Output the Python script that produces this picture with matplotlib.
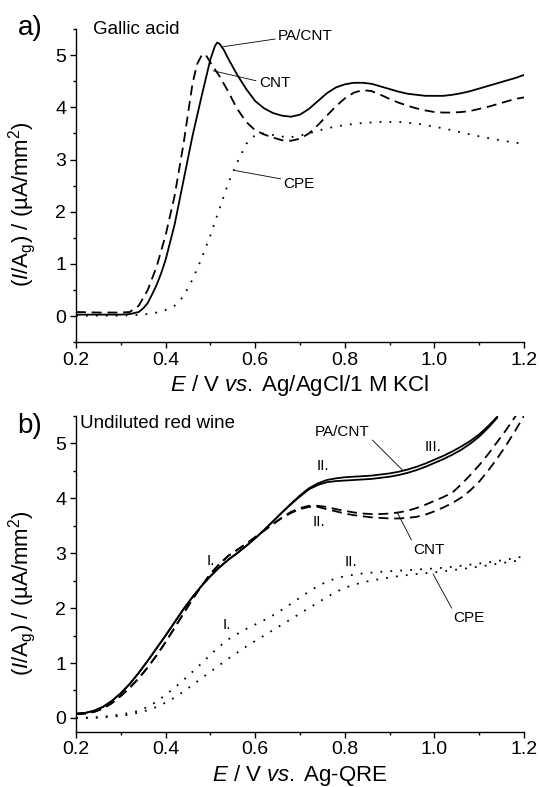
import matplotlib
matplotlib.use("Agg")
import matplotlib.pyplot as plt
from matplotlib.ticker import MultipleLocator, FormatStrFormatter

plt.rcParams['font.family'] = ['Liberation Sans', 'DejaVu Sans']
plt.rcParams['mathtext.fontset'] = 'custom'
plt.rcParams['mathtext.rm'] = 'Liberation Sans'
plt.rcParams['mathtext.it'] = 'Liberation Sans:italic'
plt.rcParams['mathtext.bf'] = 'Liberation Sans:bold'

# ---------------- Panel a: Gallic acid ----------------
a_pacnt_x = [0.20, 0.25, 0.30, 0.32, 0.34, 0.35, 0.36, 0.37, 0.38, 0.39, 0.40, 0.42, 0.44, 0.46,
             0.48, 0.50, 0.51, 0.515, 0.52, 0.53, 0.54, 0.56, 0.58, 0.60, 0.62, 0.64, 0.66, 0.68,
             0.70, 0.72, 0.74, 0.76, 0.78, 0.80, 0.82, 0.84, 0.86, 0.88, 0.90, 0.92, 0.94, 0.96,
             0.98, 1.00, 1.02, 1.04, 1.06, 1.08, 1.10, 1.12, 1.14, 1.16, 1.18, 1.20]
a_pacnt_y = [0.03, 0.03, 0.03, 0.04, 0.08, 0.15, 0.25, 0.42, 0.60, 0.82, 1.08, 1.75, 2.60, 3.45,
             4.20, 4.92, 5.17, 5.24, 5.22, 5.10, 4.93, 4.62, 4.35, 4.12, 3.98, 3.89, 3.84, 3.82,
             3.86, 3.97, 4.12, 4.27, 4.38, 4.44, 4.47, 4.47, 4.45, 4.40, 4.35, 4.30, 4.26, 4.24,
             4.22, 4.22, 4.22, 4.24, 4.27, 4.31, 4.36, 4.41, 4.46, 4.51, 4.56, 4.62]

a_cnt_x = [0.20, 0.25, 0.30, 0.32, 0.34, 0.36, 0.38, 0.40, 0.42, 0.44, 0.46, 0.47, 0.48, 0.485,
           0.49, 0.50, 0.52, 0.54, 0.55, 0.56, 0.58, 0.60, 0.62, 0.64, 0.66, 0.68, 0.70, 0.72,
           0.74, 0.76, 0.78, 0.80, 0.82, 0.84, 0.86, 0.88, 0.90, 0.92, 0.94, 0.96, 0.98, 1.00,
           1.02, 1.04, 1.06, 1.08, 1.10, 1.12, 1.14, 1.16, 1.18, 1.20]
a_cnt_y = [0.08, 0.07, 0.07, 0.08, 0.20, 0.50, 0.95, 1.55, 2.30, 3.30, 4.45, 4.82, 4.99, 5.02,
           5.00, 4.86, 4.60, 4.30, 4.13, 3.97, 3.72, 3.56, 3.48, 3.42, 3.37, 3.36, 3.40, 3.50,
           3.66, 3.84, 4.02, 4.17, 4.28, 4.33, 4.31, 4.24, 4.16, 4.09, 4.03, 3.98, 3.94, 3.91,
           3.90, 3.90, 3.91, 3.93, 3.97, 4.01, 4.06, 4.11, 4.16, 4.19]

a_cpe_x = [0.20, 0.25, 0.30, 0.35, 0.38, 0.40, 0.42, 0.44, 0.46, 0.48, 0.50, 0.52, 0.54, 0.56,
           0.58, 0.60, 0.62, 0.64, 0.66, 0.68, 0.70, 0.72, 0.74, 0.76, 0.78, 0.80, 0.84, 0.88,
           0.92, 0.96, 1.00, 1.04, 1.08, 1.12, 1.16, 1.20]
a_cpe_y = [0.01, 0.01, 0.01, 0.03, 0.07, 0.12, 0.20, 0.38, 0.70, 1.10, 1.55, 2.05, 2.55, 2.95,
           3.30, 3.47, 3.50, 3.47, 3.44, 3.43, 3.46, 3.50, 3.55, 3.60, 3.63, 3.66, 3.70, 3.72,
           3.72, 3.69, 3.63, 3.56, 3.48, 3.41, 3.35, 3.30]

# ---------------- Panel b: Undiluted red wine ----------------
b_x = [0.20, 0.22, 0.24, 0.26, 0.28, 0.30, 0.32, 0.34, 0.36, 0.38, 0.40, 0.42, 0.44, 0.46,
       0.48, 0.50, 0.52, 0.54, 0.56, 0.58, 0.60, 0.62, 0.64, 0.66, 0.68, 0.70, 0.72, 0.74,
       0.76, 0.78, 0.80, 0.82, 0.84, 0.86, 0.88, 0.90, 0.92, 0.94, 0.96, 0.98, 1.00, 1.02,
       1.04, 1.06, 1.08, 1.10, 1.12, 1.14]
b_pacnt1_y = [0.08, 0.09, 0.13, 0.20, 0.31, 0.45, 0.62, 0.82, 1.04, 1.27, 1.50, 1.74, 1.98, 2.20,
              2.40, 2.58, 2.74, 2.88, 3.00, 3.13, 3.27, 3.42, 3.58, 3.74, 3.90, 4.05, 4.18, 4.27,
              4.33, 4.36, 4.38, 4.39, 4.40, 4.41, 4.43, 4.45, 4.48, 4.52, 4.57, 4.63, 4.70, 4.77,
              4.85, 4.94, 5.04, 5.16, 5.31, 5.48]
b_pacnt2_y = [0.08, 0.09, 0.13, 0.20, 0.31, 0.45, 0.62, 0.82, 1.04, 1.27, 1.50, 1.74, 1.98, 2.20,
              2.40, 2.58, 2.74, 2.88, 3.00, 3.13, 3.27, 3.42, 3.58, 3.74, 3.89, 4.03, 4.16, 4.24,
              4.29, 4.31, 4.32, 4.33, 4.34, 4.35, 4.37, 4.39, 4.42, 4.46, 4.51, 4.57, 4.64, 4.71,
              4.79, 4.88, 4.99, 5.12, 5.28, 5.46]

b_cnt_x = [0.20, 0.22, 0.24, 0.26, 0.28, 0.30, 0.32, 0.34, 0.36, 0.38, 0.40, 0.42, 0.44, 0.46,
           0.48, 0.50, 0.52, 0.54, 0.56, 0.58, 0.60, 0.62, 0.64, 0.66, 0.68, 0.70, 0.72, 0.74,
           0.76, 0.78, 0.80, 0.82, 0.84, 0.86, 0.88, 0.90, 0.92, 0.94, 0.96, 0.98, 1.00, 1.02,
           1.04, 1.06, 1.08, 1.10, 1.12, 1.14, 1.16, 1.18, 1.20]
b_cnt1_y = [0.07, 0.08, 0.11, 0.17, 0.27, 0.40, 0.55, 0.72, 0.92, 1.14, 1.38, 1.64, 1.90, 2.16,
            2.40, 2.62, 2.80, 2.95, 3.06, 3.17, 3.29, 3.41, 3.53, 3.65, 3.75, 3.82, 3.86, 3.86,
            3.84, 3.80, 3.77, 3.74, 3.72, 3.71, 3.71, 3.72, 3.74, 3.77, 3.82, 3.88, 3.95, 4.02,
            4.10, 4.25, 4.42, 4.60, 4.80, 5.02, 5.24, 5.48, 5.70]
b_cnt2_y = [0.07, 0.08, 0.11, 0.17, 0.27, 0.40, 0.55, 0.72, 0.92, 1.14, 1.38, 1.64, 1.90, 2.16,
            2.40, 2.62, 2.80, 2.95, 3.06, 3.17, 3.29, 3.41, 3.53, 3.64, 3.73, 3.80, 3.84, 3.84,
            3.80, 3.76, 3.72, 3.69, 3.67, 3.65, 3.64, 3.63, 3.63, 3.64, 3.66, 3.70, 3.76, 3.83,
            3.91, 4.01, 4.14, 4.30, 4.50, 4.72, 4.96, 5.22, 5.50]

b_cpe_x = [0.20, 0.24, 0.28, 0.32, 0.34, 0.36, 0.38, 0.40, 0.42, 0.44, 0.46, 0.48, 0.50, 0.52,
           0.54, 0.56, 0.58, 0.60, 0.62, 0.64, 0.66, 0.68, 0.70, 0.72, 0.74, 0.76, 0.78, 0.80,
           0.84, 0.88, 0.92, 0.96, 1.00, 1.04, 1.08, 1.12, 1.16, 1.20]
b_cpe1_y = [0.00, 0.01, 0.04, 0.09, 0.13, 0.20, 0.30, 0.42, 0.55, 0.69, 0.84, 0.99, 1.15, 1.30,
            1.43, 1.53, 1.62, 1.70, 1.78, 1.87, 1.97, 2.08, 2.19, 2.30, 2.40, 2.48, 2.54, 2.58,
            2.63, 2.66, 2.68, 2.70, 2.72, 2.75, 2.79, 2.83, 2.88, 2.94]
b_cpe2_y = [0.00, 0.00, 0.02, 0.06, 0.10, 0.14, 0.20, 0.28, 0.37, 0.48, 0.60, 0.72, 0.84, 0.96,
            1.08, 1.19, 1.30, 1.40, 1.50, 1.60, 1.70, 1.80, 1.90, 2.00, 2.10, 2.20, 2.29, 2.37,
            2.47, 2.53, 2.58, 2.62, 2.65, 2.69, 2.73, 2.78, 2.83, 2.88]

x_ticks = [0.2, 0.4, 0.6, 0.8, 1.0, 1.2]
y_ticks = [0, 1, 2, 3, 4, 5]

SOLID = '-'
DASHED = (0, (5.5, 3.2))
DOTTED = (0, (1, 4.5))
LW = 1.3

fig = plt.figure(figsize=(5.39, 7.87), dpi=100)
ax_a = fig.add_axes([76 / 539, 1 - 342.3 / 787, 448 / 539, 313.3 / 787])
ax_b = fig.add_axes([76 / 539, 1 - 731.7 / 787, 448 / 539, 316 / 787])

ax_a.plot(a_pacnt_x, a_pacnt_y, color='black', ls=SOLID, lw=LW)
ax_a.plot(a_cnt_x, a_cnt_y, color='black', ls=DASHED, lw=LW)
ax_a.plot(a_cpe_x, a_cpe_y, color='black', ls=DOTTED, lw=LW)

ax_b.plot(b_x, b_pacnt1_y, color='black', ls=SOLID, lw=LW)
ax_b.plot(b_x, b_pacnt2_y, color='black', ls=SOLID, lw=LW)
ax_b.plot(b_cnt_x, b_cnt1_y, color='black', ls=DASHED, lw=LW)
ax_b.plot(b_cnt_x, b_cnt2_y, color='black', ls=DASHED, lw=LW)
ax_b.plot(b_cpe_x, b_cpe1_y, color='black', ls=DOTTED, lw=LW)
ax_b.plot(b_cpe_x, b_cpe2_y, color='black', ls=DOTTED, lw=LW)

for ax, ylo in ((ax_a, -0.5), (ax_b, -0.25)):
    ax.set_xlim(0.2, 1.2)
    ax.set_ylim(ylo, 5.5)
    ax.spines['top'].set_visible(False)
    ax.spines['right'].set_visible(False)
    for s in ('left', 'bottom'):
        ax.spines[s].set_linewidth(1.0)
    ax.set_xticks(x_ticks)
    ax.xaxis.set_major_formatter(FormatStrFormatter('%.1f'))
    ax.set_yticks(y_ticks)
    ax.xaxis.set_minor_locator(MultipleLocator(0.1))
    ax.yaxis.set_minor_locator(MultipleLocator(0.5))
    ax.tick_params(which='major', direction='out', length=4, width=1.0, labelsize=14, pad=3)
    ax.tick_params(which='minor', direction='out', length=2.3, width=1.0)
    ax.set_ylabel(r'($I$/A$_{\rm g}$) / (µA/mm$^{\rm 2}$)', fontsize=16)
    ax.yaxis.set_label_coords(-0.085, 0.44)

ax_a.set_xlabel(r'$E$ / V $vs.\;$Ag/AgCl/1 M KCl', fontsize=16, labelpad=3)
ax_b.set_xlabel(r'$E$ / V $vs.\;$Ag-QRE', fontsize=16, labelpad=3)

fig.text(18 / 539, 1 - 35 / 787, 'a)', fontsize=20, va='baseline', ha='left')
fig.text(17 / 539, 1 - 433 / 787, 'b)', fontsize=20, va='baseline', ha='left')
ax_a.text(0.038, 0.984, 'Gallic acid', transform=ax_a.transAxes, fontsize=13.5,
          va='baseline', ha='left')
ax_b.text(0.009, 0.961, 'Undiluted red wine', transform=ax_b.transAxes, fontsize=13.5,
          va='baseline', ha='left')

ann_fs = 11
line_kw = dict(arrowstyle='-', lw=0.6, color='black', shrinkA=0, shrinkB=0)

# panel a annotations
ax_a.annotate('PA/CNT', xy=(0.528, 5.16), xytext=(0.651, 5.37), fontsize=ann_fs,
              ha='left', va='center', arrowprops=dict(relpos=(0, 0.3), **line_kw))
ax_a.annotate('CNT', xy=(0.506, 4.70), xytext=(0.608, 4.47), fontsize=ann_fs,
              ha='left', va='center', arrowprops=dict(relpos=(0, 0.6), **line_kw))
ax_a.annotate('CPE', xy=(0.555, 2.79), xytext=(0.663, 2.54), fontsize=ann_fs,
              ha='left', va='center', arrowprops=dict(relpos=(0, 0.8), **line_kw))

# panel b annotations
ax_b.annotate('PA/CNT', xy=(0.93, 4.50), xytext=(0.733, 5.21), fontsize=ann_fs,
              ha='left', va='center', arrowprops=dict(relpos=(1.0, 0.1), **line_kw))
ax_b.annotate('CNT', xy=(0.917, 3.74), xytext=(0.952, 3.06), fontsize=ann_fs,
              ha='left', va='center', arrowprops=dict(relpos=(0.0, 1.0), **line_kw))
ax_b.annotate('CPE', xy=(0.997, 2.62), xytext=(1.042, 1.82), fontsize=ann_fs,
              ha='left', va='center', arrowprops=dict(relpos=(0.0, 1.0), **line_kw))
ax_b.text(0.979, 4.93, 'III.', fontsize=ann_fs, ha='left', va='center')
ax_b.text(0.737, 4.59, 'II.', fontsize=ann_fs, ha='left', va='center')
ax_b.text(0.729, 3.56, 'II.', fontsize=ann_fs, ha='left', va='center')
ax_b.text(0.800, 2.83, 'II.', fontsize=ann_fs, ha='left', va='center')
ax_b.text(0.492, 2.85, 'I.', fontsize=ann_fs, ha='left', va='center')
ax_b.text(0.528, 1.69, 'I.', fontsize=ann_fs, ha='left', va='center')

fig.savefig('out.png', dpi=100)
